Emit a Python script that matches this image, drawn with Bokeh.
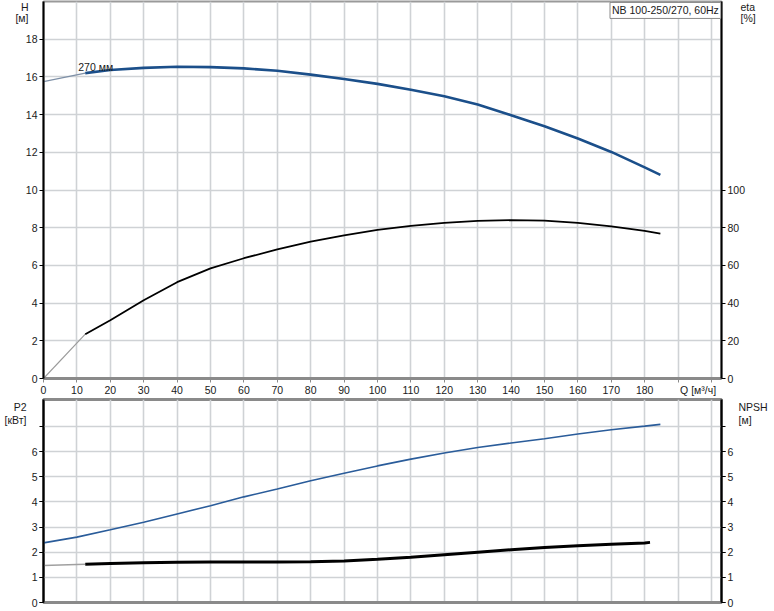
from bokeh.plotting import figure
from bokeh.models import Range1d, LinearAxis, FixedTicker, Label
from bokeh.layouts import column
from bokeh.embed import file_html
from bokeh.resources import INLINE

# ---------------- data ----------------
q_h = [0, 12.5, 20, 30, 40, 50, 60, 70, 80, 90, 100, 110, 120, 130, 140, 150, 160, 170, 180, 184.7]
head = [15.75, 16.2, 16.37, 16.48, 16.54, 16.52, 16.45, 16.33, 16.12, 15.89, 15.63, 15.32, 14.97,
        14.53, 13.97, 13.38, 12.73, 12.02, 11.2, 10.8]

q_eta = [0, 12.5, 20, 30, 40, 50, 60, 70, 80, 90, 100, 110, 120, 130, 140, 150, 160, 170, 180, 184.7]
eta = [0, 23.5, 30.9, 41.5, 51.1, 58.4, 63.8, 68.5, 72.6, 75.9, 78.8, 81.0, 82.6, 83.6, 84.0, 83.8,
       82.6, 80.7, 78.3, 76.9]

q_p2 = [0, 10, 20, 30, 40, 50, 60, 70, 80, 90, 100, 110, 120, 130, 140, 150, 160, 170, 180, 184.7]
p2 = [2.37, 2.6, 2.89, 3.19, 3.52, 3.85, 4.2, 4.51, 4.84, 5.14, 5.43, 5.70, 5.94, 6.16, 6.34,
      6.51, 6.70, 6.87, 7.01, 7.08]

q_npsh = [0, 12.5, 20, 30, 40, 50, 60, 70, 80, 90, 100, 110, 120, 130, 140, 150, 160, 170, 180, 181.6]
npsh = [1.47, 1.52, 1.55, 1.58, 1.6, 1.61, 1.61, 1.61, 1.62, 1.65, 1.72, 1.8, 1.9, 2.0, 2.1,
        2.19, 2.26, 2.32, 2.37, 2.39]

q_grid = list(range(0, 201, 10))          # grid lines / tick marks on Q
q_labels = list(range(0, 181, 10))        # labelled Q ticks
h_ticks = list(range(0, 19, 2))
eta_ticks = [0, 20, 40, 60, 80, 100]
p_grid = [0, 1, 2, 3, 4, 5, 6, 7]
p_labels = [0, 1, 2, 3, 4, 5, 6]

title_text = "NB 100-250/270, 60Hz"
curve_label = "270 мм"
q_title = "Q [м³/ч]"
h_title, h_unit = "H", "[м]"
eta_title, eta_unit = "eta", "[%]"
p2_title, p2_unit = "P2", "[кВт]"
npsh_title, npsh_unit = "NPSH", "[м]"

FONT = "Liberation Sans"
FS = "10.5px"
GRID = "#cfd2d5"
TXT = "#1a1a1a"


def style_axis(ax, color="black", width=2):
    ax.axis_line_color = color
    ax.axis_line_width = width
    ax.major_tick_line_color = color
    ax.major_tick_out = 4
    ax.major_tick_in = 0
    ax.minor_tick_line_color = color
    ax.minor_tick_out = 4
    ax.minor_tick_in = 0
    ax.major_label_text_font = FONT
    ax.major_label_text_font_size = FS
    ax.major_label_text_color = TXT
    ax.major_label_standoff = 2


def title_axis(p, side, range_name, ticks, texts, standoff):
    # an axis without line/ticks that only carries the quantity name and unit
    ax = LinearAxis(y_range_name=range_name, ticker=FixedTicker(ticks=ticks),
                    major_label_overrides=dict(zip(ticks, texts)))
    ax.axis_line_color = None
    ax.major_tick_line_color = None
    ax.minor_tick_line_color = None
    ax.major_tick_out = 0
    ax.major_tick_in = 0
    ax.major_label_standoff = standoff
    ax.major_label_text_font = FONT
    ax.major_label_text_font_size = FS
    ax.major_label_text_color = TXT
    p.add_layout(ax, side)


# ---------------- top figure ----------------
f1 = figure(width=770, height=398, x_range=Range1d(0, 203), y_range=Range1d(0, 20),
            output_backend="svg", toolbar_location=None,
            min_border_left=43, min_border_right=47, min_border_top=1, min_border_bottom=17)
f1.outline_line_color = "#9a9a9a"
f1.outline_line_width = 2
f1.extra_y_ranges = {"eta": Range1d(0, 200), "lab": Range1d(0, 380)}

xa = f1.xaxis[0]
xa.ticker = FixedTicker(ticks=q_labels + [196], minor_ticks=q_grid)
xa.major_label_overrides = {196: q_title}
style_axis(xa, color="#8a8a8a", width=3)
xa.major_tick_line_color = None
xa.major_label_standoff = 1
f1.xgrid.ticker = FixedTicker(ticks=q_grid)

ya = f1.yaxis[0]
ya.ticker = FixedTicker(ticks=h_ticks)
style_axis(ya)
f1.ygrid.ticker = FixedTicker(ticks=h_ticks)
ax_eta = LinearAxis(y_range_name="eta", ticker=FixedTicker(ticks=eta_ticks))
style_axis(ax_eta)
f1.add_layout(ax_eta, "right")
title_axis(f1, "left", "lab", [375, 363], [h_title, h_unit], -6)
title_axis(f1, "right", "lab", [375, 363], [eta_title, eta_unit], -8)

f1.xgrid.grid_line_color = GRID
f1.xgrid.grid_line_width = 1.6
f1.ygrid.grid_line_color = GRID
f1.ygrid.grid_line_width = 1.6

f1.line(q_h[:2], head[:2], line_color="#7d8fa6", line_width=1.2)
f1.line(q_h[1:], head[1:], line_color="#1b4f8a", line_width=2.6)
f1.line(q_eta[:2], eta[:2], line_color="#9a9a9a", line_width=1.1, y_range_name="eta")
f1.line(q_eta[1:], eta[1:], line_color="black", line_width=1.8, y_range_name="eta")

f1.add_layout(Label(x=10.4, y=16.52, text=curve_label, text_align="left", text_baseline="middle",
                    text_font=FONT, text_font_size=FS, text_color=TXT))
f1.add_layout(Label(x=202.8, y=19.95, text=title_text, text_align="right", text_baseline="top",
                    text_font=FONT, text_font_size="10.5px", text_color=TXT,
                    background_fill_color="white", border_line_color="#8a8a8a",
                    border_line_width=1, padding=2))

# ---------------- bottom figure ----------------
f2 = figure(width=770, height=212, x_range=Range1d(0, 203), y_range=Range1d(0, 8.07),
            output_backend="svg", toolbar_location=None,
            min_border_left=43, min_border_right=47, min_border_top=1, min_border_bottom=8)
f2.outline_line_color = "#8a8a8a"
f2.outline_line_width = 3
f2.extra_y_ranges = {"npsh": Range1d(0, 8.07), "lab": Range1d(0, 203)}

xb = f2.xaxis[0]
xb.ticker = FixedTicker(ticks=[])
xb.axis_line_color = "#8a8a8a"
xb.axis_line_width = 3
xb.major_tick_line_color = None
xb.minor_tick_line_color = None
xb.major_tick_out = 0
xb.major_tick_in = 0
xb.major_label_standoff = 0
f2.xgrid.ticker = FixedTicker(ticks=q_grid)

yb = f2.yaxis[0]
yb.ticker = FixedTicker(ticks=p_labels, minor_ticks=p_grid)
style_axis(yb)
f2.ygrid.ticker = FixedTicker(ticks=p_grid)
ax_npsh = LinearAxis(y_range_name="npsh", ticker=FixedTicker(ticks=p_labels, minor_ticks=p_grid))
style_axis(ax_npsh)
f2.add_layout(ax_npsh, "right")
title_axis(f2, "left", "lab", [196, 183], [p2_title, p2_unit], 2)
title_axis(f2, "right", "lab", [196, 183], [npsh_title, npsh_unit], 2)

f2.xgrid.grid_line_color = GRID
f2.xgrid.grid_line_width = 1.6
f2.ygrid.grid_line_color = GRID
f2.ygrid.grid_line_width = 1.6

f2.line(q_p2, p2, line_color="#2a5c9a", line_width=1.6)
f2.line(q_npsh[:2], npsh[:2], line_color="#a0a0a0", line_width=1.5, y_range_name="npsh")
f2.line(q_npsh[1:], npsh[1:], line_color="black", line_width=3, y_range_name="npsh")

layout = column(f1, f2, spacing=0)
open("out.html", "w").write(file_html(layout, INLINE))
